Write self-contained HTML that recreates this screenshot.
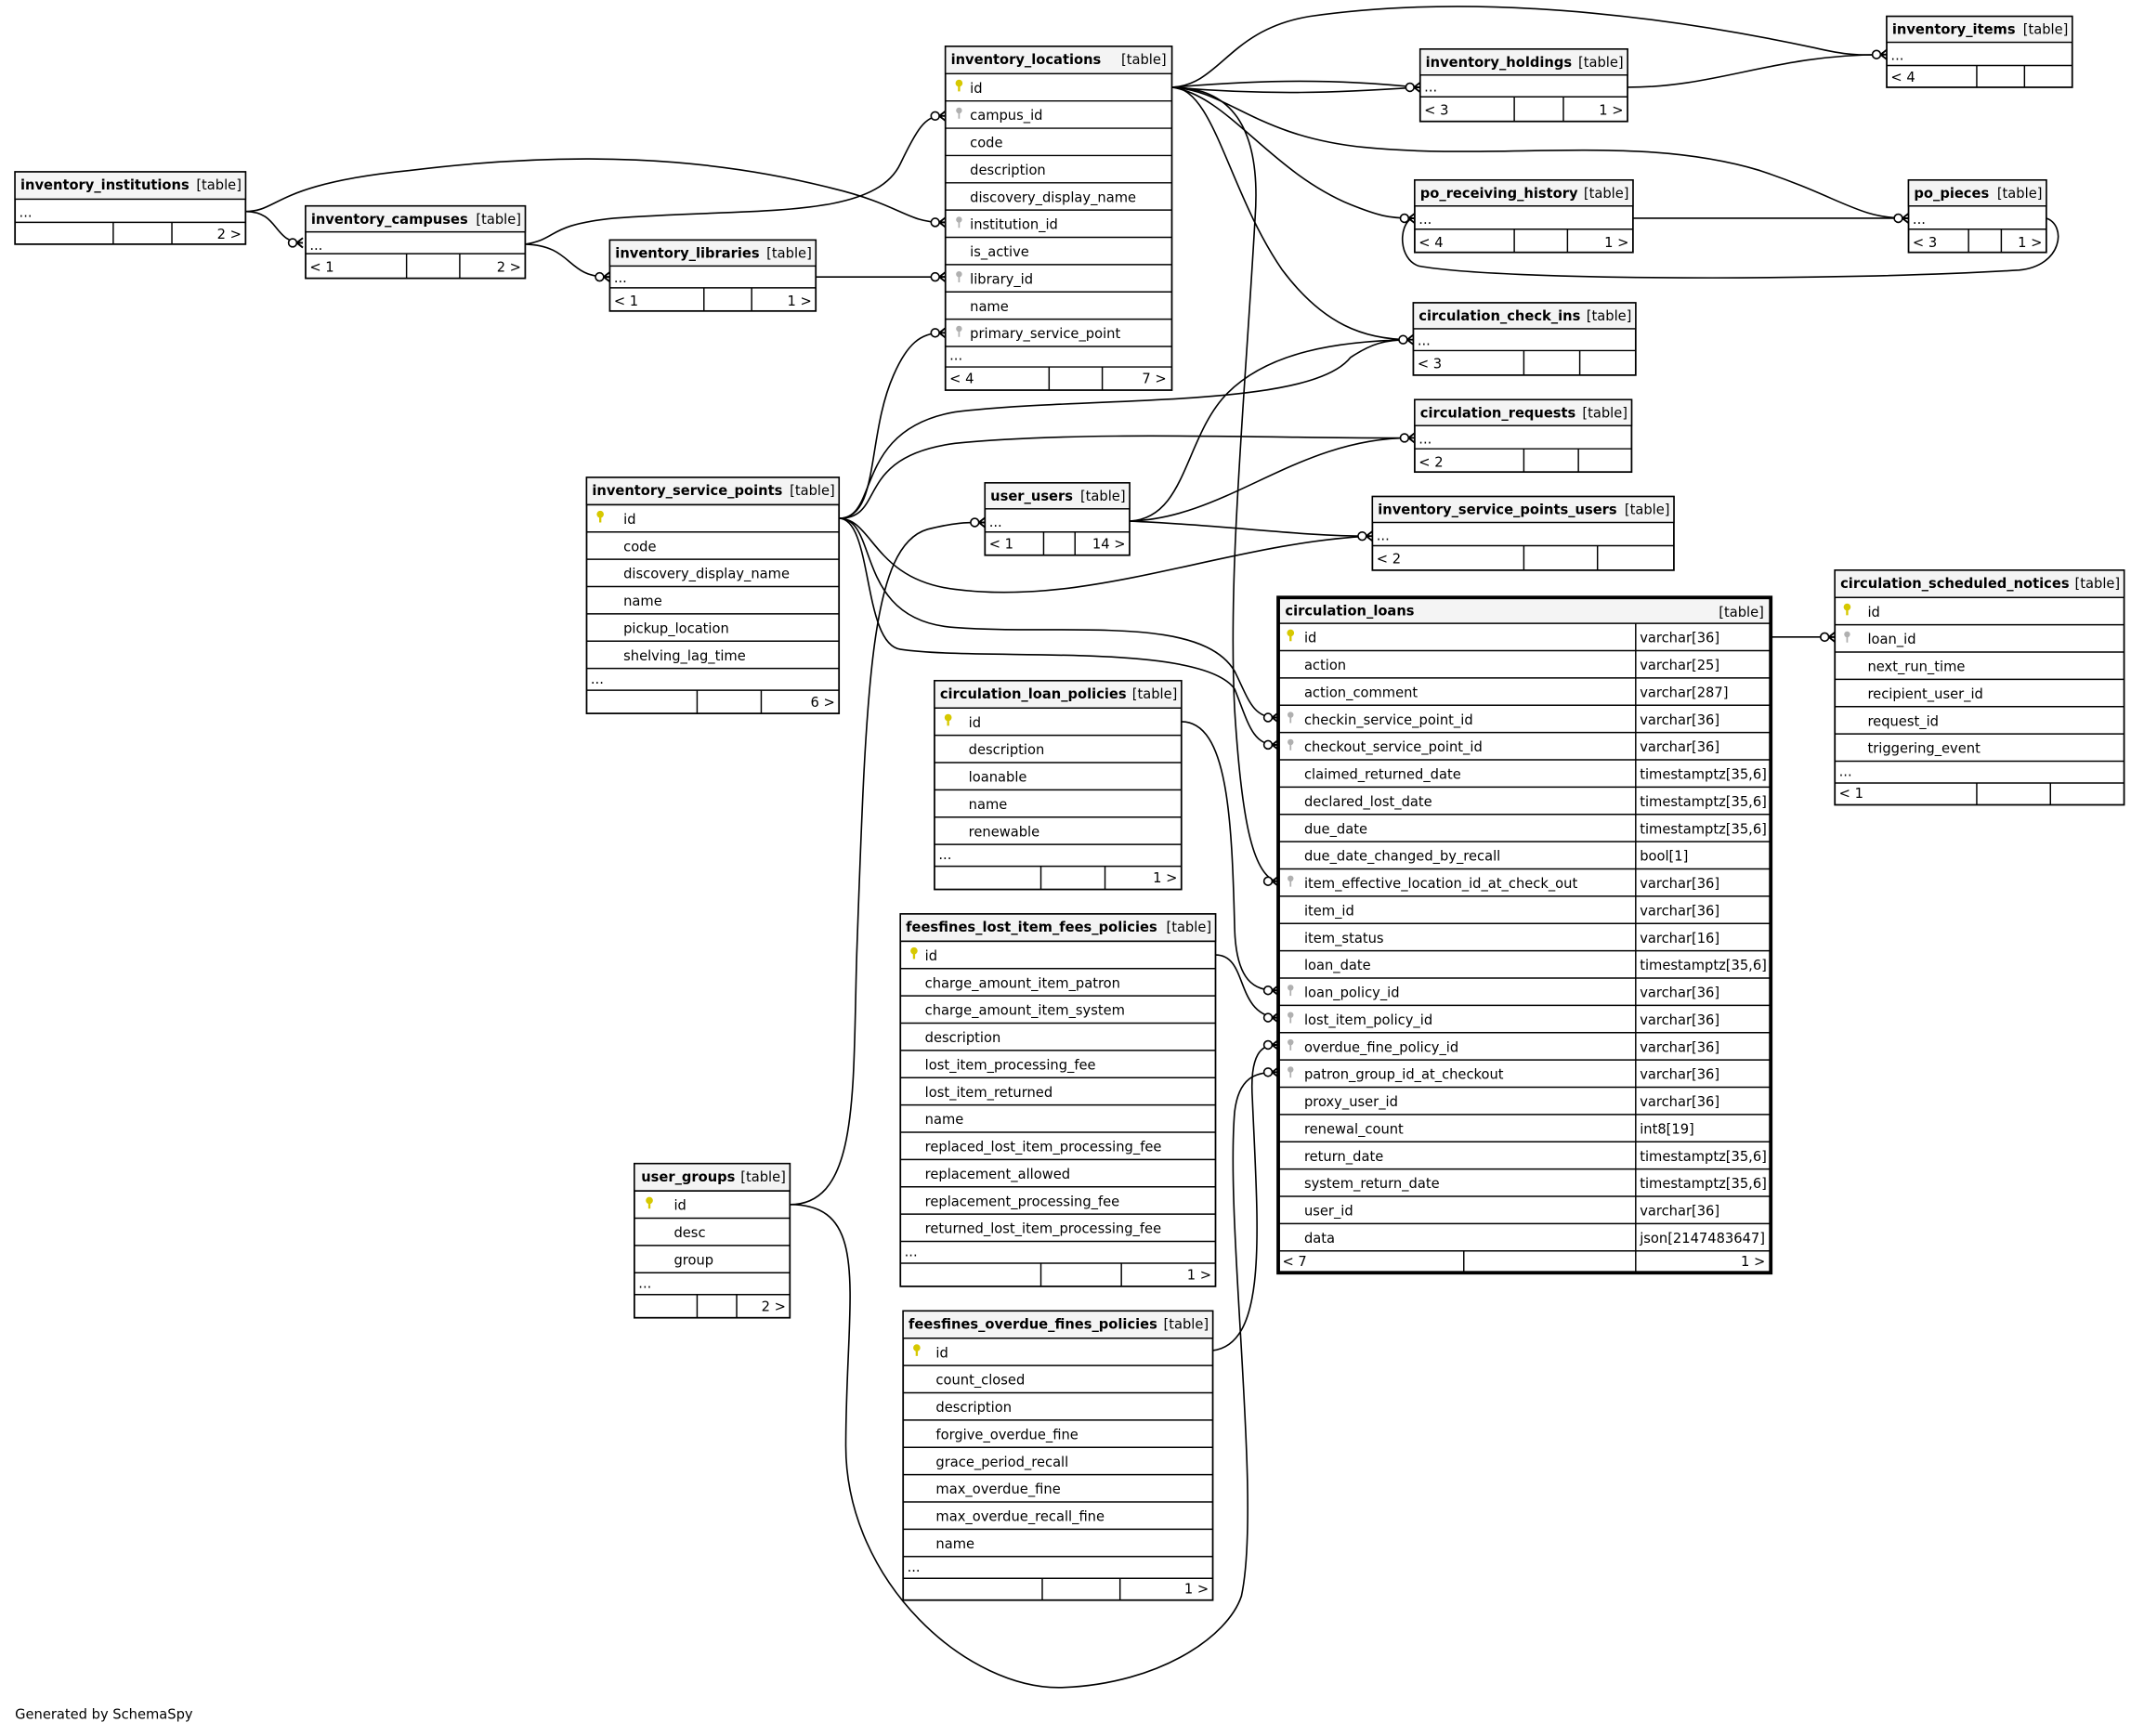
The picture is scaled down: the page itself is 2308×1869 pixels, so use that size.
<!DOCTYPE html>
<html><head><meta charset="utf-8"><style>
html,body{margin:0;padding:0;background:#fff}
svg{display:block}
text{font-family:"DejaVu Sans","Liberation Sans",sans-serif;font-size:10px;fill:#000}
.b{font-weight:bold}
.e{text-anchor:end}
.h{fill:#f4f4f4;stroke:#000;stroke-width:1}
.o{fill:none;stroke:#000;stroke-width:1.2}
.l{stroke:#000;stroke-width:1}
.c{fill:none;stroke:#000;stroke-width:1.1}
.pk{stroke:#d6c800;stroke-width:1.6;fill:#d6c800}
.fk{stroke:#b0b0b0;stroke-width:1.2;fill:#b0b0b0}
</style></head><body>
<svg width="2308" height="1869" viewBox="0 0 1571.6 1272.6" preserveAspectRatio="none" xmlns="http://www.w3.org/2000/svg">
<defs>
<g id="cf"><circle cx="-7.5" cy="0" r="3" fill="#fff" stroke="#000" stroke-width="1.1"/><path d="M-4.5,0 L0,-3.5 M-4.5,0 L0,0 M-4.5,0 L0,3.5" stroke="#000" stroke-width="1.3" fill="none"/></g>
<g id="pk"><circle cx="0" cy="-3" r="1.8" class="pk"/><line x1="0" y1="-3" x2="0" y2="3" class="pk"/></g>
<g id="fk"><circle cx="0" cy="-3" r="1.6" class="fk"/><line x1="0" y1="-3" x2="0" y2="3" class="fk"/></g>
</defs>

<!-- connectors -->
<g class="c">
<path d="M180,155 C205,155 200,135 300,125 C420,110 520,115 610,138 C660,150 665,163 690,163"/>
<path d="M180,155 C205,155 200,178 222,178"/>
<path d="M385,179 C410,175 400,165 450,160 C550,152 640,162 660,120 C672,95 678,85 690,85"/>
<path d="M385,179 C420,180 415,203 445,203"/>
<path d="M598,203 L690,203"/>
<path d="M615,380 C645,380 635,320 655,275 C665,252 675,244 690,244"/>
<path d="M615,380 C645,380 625,315 700,302 C800,290 960,300 990,262 C1005,252 1015,249 1034,249"/>
<path d="M615,380 C650,380 625,335 700,325 C800,315 950,322 1034,321"/>
<path d="M615,380 C640,380 640,425 700,432 C800,445 900,398 1004,393"/>
<path d="M615,380 C645,380 625,455 700,460 C780,466 880,450 905,492 C915,512 918,526 935,526"/>
<path d="M615,380 C640,380 632,472 660,476 C720,485 880,470 905,505 C915,530 918,546 935,546"/>
<path d="M859,64 C930,58 980,58 1039,64"/>
<path d="M859,64 C930,70 980,68 1039,64"/>
<path d="M859,64 C895,62 900,22 960,12 C1100,-8 1250,18 1330,35 C1360,42 1368,40 1381,40"/>
<path d="M859,64 C900,66 920,100 1000,108 C1100,118 1200,98 1290,125 C1350,145 1362,160 1397,160"/>
<path d="M859,64 C900,70 930,125 990,150 C1010,158 1018,160 1035,160"/>
<path d="M859,64 C890,64 900,140 940,198 C970,238 1000,249 1034,249"/>
<path d="M859,64 C900,64 925,90 920,160 C912,300 900,420 905,520 C910,600 918,640 935,646"/>
<path d="M579,883 C630,883 625,800 628,700 C635,500 638,400 680,388 C700,383 708,383 720,383"/>
<path d="M579,883 C640,883 620,950 620,1060 C620,1160 710,1240 780,1237 C850,1234 900,1200 910,1170 C925,1100 898,900 905,815 C908,790 920,786 935,786"/>
<path d="M828,382 C870,380 868,320 900,288 C930,258 980,250 1034,249"/>
<path d="M828,382 C900,380 950,321 1034,321"/>
<path d="M828,382 C900,385 950,393 1004,393"/>
<path d="M866,529 C900,529 903,600 905,680 C906,720 920,726 935,726"/>
<path d="M891,700 C915,700 905,742 935,746"/>
<path d="M889,990 C930,985 922,900 918,805 C916,772 925,766 935,766"/>
<path d="M1298,467 L1343,467"/>
<path d="M1193,64 C1260,64 1300,40 1381,40"/>
<path d="M1197,160 L1397,160"/>
<path d="M1500,160 C1515,165 1512,195 1480,198 C1350,206 1100,206 1040,195 C1025,190 1025,165 1035,160"/>
</g>
<g>
<use href="#cf" x="222" y="178"/><use href="#cf" x="693" y="85"/><use href="#cf" x="693" y="163"/>
<use href="#cf" x="447" y="203"/><use href="#cf" x="693" y="203"/><use href="#cf" x="693" y="244"/>
<use href="#cf" x="1041" y="64"/><use href="#cf" x="1383" y="40"/><use href="#cf" x="1399" y="160"/>
<use href="#cf" x="1037" y="160"/><use href="#cf" x="1036" y="249"/><use href="#cf" x="1037" y="321"/>
<use href="#cf" x="1006" y="393"/><use href="#cf" x="722" y="383"/><use href="#cf" x="1345" y="467"/>
<use href="#cf" x="937" y="526"/><use href="#cf" x="937" y="546"/><use href="#cf" x="937" y="646"/>
<use href="#cf" x="937" y="726"/><use href="#cf" x="937" y="746"/><use href="#cf" x="937" y="766"/><use href="#cf" x="937" y="786"/>
</g>

<!-- inventory_institutions -->
<g>
<rect x="11" y="126" width="169" height="53" fill="#fff" class="o"/>
<rect x="11" y="126" width="169" height="20" class="h"/>
<text x="15" y="139" class="b">inventory_institutions</text><text x="177" y="139" class="e">[table]</text>
<text x="14" y="159">...</text>
<line x1="11" y1="163" x2="180" y2="163" class="l"/><line x1="83" y1="163" x2="83" y2="179" class="l"/><line x1="126" y1="163" x2="126" y2="179" class="l"/>
<text x="177" y="175" class="e">2 &gt;</text>
</g>

<!-- inventory_campuses -->
<g>
<rect x="224" y="151" width="161" height="53" fill="#fff" class="o"/>
<rect x="224" y="151" width="161" height="19" class="h"/>
<text x="228" y="164" class="b">inventory_campuses</text><text x="382" y="164" class="e">[table]</text>
<text x="227" y="183">...</text>
<line x1="224" y1="186" x2="385" y2="186" class="l"/><line x1="298" y1="186" x2="298" y2="204" class="l"/><line x1="337" y1="186" x2="337" y2="204" class="l"/>
<text x="227" y="199">&lt; 1</text><text x="382" y="199" class="e">2 &gt;</text>
</g>

<!-- inventory_libraries -->
<g>
<rect x="447" y="176" width="151" height="52" fill="#fff" class="o"/>
<rect x="447" y="176" width="151" height="19" class="h"/>
<text x="451" y="189" class="b">inventory_libraries</text><text x="595" y="189" class="e">[table]</text>
<text x="450" y="207">...</text>
<line x1="447" y1="211" x2="598" y2="211" class="l"/><line x1="516" y1="211" x2="516" y2="228" class="l"/><line x1="551" y1="211" x2="551" y2="228" class="l"/>
<text x="450" y="224">&lt; 1</text><text x="595" y="224" class="e">1 &gt;</text>
</g>

<!-- inventory_locations -->
<g>
<rect x="693" y="34" width="166" height="252" fill="#fff" class="o"/>
<rect x="693" y="34" width="166" height="20" class="h"/>
<text x="697" y="47" class="b">inventory_locations</text><text x="855" y="47" class="e">[table]</text>
<g class="l"><line x1="693" y1="74" x2="859" y2="74"/><line x1="693" y1="94" x2="859" y2="94"/><line x1="693" y1="114" x2="859" y2="114"/><line x1="693" y1="134" x2="859" y2="134"/><line x1="693" y1="154" x2="859" y2="154"/><line x1="693" y1="174" x2="859" y2="174"/><line x1="693" y1="194" x2="859" y2="194"/><line x1="693" y1="214" x2="859" y2="214"/><line x1="693" y1="234" x2="859" y2="234"/><line x1="693" y1="254" x2="859" y2="254"/><line x1="693" y1="269" x2="859" y2="269"/><line x1="769" y1="269" x2="769" y2="286"/><line x1="808" y1="269" x2="808" y2="286"/></g>
<use href="#pk" x="703" y="64"/><use href="#fk" x="703" y="84"/><use href="#fk" x="703" y="164"/><use href="#fk" x="703" y="204"/><use href="#fk" x="703" y="244"/>
<text x="711" y="68">id</text><text x="711" y="88">campus_id</text><text x="711" y="108">code</text><text x="711" y="128">description</text><text x="711" y="148">discovery_display_name</text><text x="711" y="168">institution_id</text><text x="711" y="188">is_active</text><text x="711" y="208">library_id</text><text x="711" y="228">name</text><text x="711" y="248">primary_service_point</text>
<text x="696" y="264">...</text><text x="696" y="281">&lt; 4</text><text x="855" y="281" class="e">7 &gt;</text>
</g>

<!-- inventory_holdings -->
<g>
<rect x="1041" y="36" width="152" height="53" fill="#fff" class="o"/>
<rect x="1041" y="36" width="152" height="19" class="h"/>
<text x="1045" y="49" class="b">inventory_holdings</text><text x="1190" y="49" class="e">[table]</text>
<text x="1044" y="67">...</text>
<line x1="1041" y1="71" x2="1193" y2="71" class="l"/><line x1="1110" y1="71" x2="1110" y2="89" class="l"/><line x1="1146" y1="71" x2="1146" y2="89" class="l"/>
<text x="1044" y="84">&lt; 3</text><text x="1190" y="84" class="e">1 &gt;</text>
</g>

<!-- inventory_items -->
<g>
<rect x="1383" y="12" width="136" height="52" fill="#fff" class="o"/>
<rect x="1383" y="12" width="136" height="19" class="h"/>
<text x="1387" y="25" class="b">inventory_items</text><text x="1516" y="25" class="e">[table]</text>
<text x="1386" y="44">...</text>
<line x1="1383" y1="48" x2="1519" y2="48" class="l"/><line x1="1449" y1="48" x2="1449" y2="64" class="l"/><line x1="1484" y1="48" x2="1484" y2="64" class="l"/>
<text x="1386" y="60">&lt; 4</text>
</g>

<!-- po_receiving_history -->
<g>
<rect x="1037" y="132" width="160" height="53" fill="#fff" class="o"/>
<rect x="1037" y="132" width="160" height="19" class="h"/>
<text x="1041" y="145" class="b">po_receiving_history</text><text x="1194" y="145" class="e">[table]</text>
<text x="1040" y="164">...</text>
<line x1="1037" y1="168" x2="1197" y2="168" class="l"/><line x1="1110" y1="168" x2="1110" y2="185" class="l"/><line x1="1149" y1="168" x2="1149" y2="185" class="l"/>
<text x="1040" y="181">&lt; 4</text><text x="1194" y="181" class="e">1 &gt;</text>
</g>

<!-- po_pieces -->
<g>
<rect x="1399" y="132" width="101" height="53" fill="#fff" class="o"/>
<rect x="1399" y="132" width="101" height="19" class="h"/>
<text x="1403" y="145" class="b">po_pieces</text><text x="1497" y="145" class="e">[table]</text>
<text x="1402" y="164">...</text>
<line x1="1399" y1="168" x2="1500" y2="168" class="l"/><line x1="1443" y1="168" x2="1443" y2="185" class="l"/><line x1="1467" y1="168" x2="1467" y2="185" class="l"/>
<text x="1402" y="181">&lt; 3</text><text x="1497" y="181" class="e">1 &gt;</text>
</g>

<!-- circulation_check_ins -->
<g>
<rect x="1036" y="222" width="163" height="53" fill="#fff" class="o"/>
<rect x="1036" y="222" width="163" height="19" class="h"/>
<text x="1040" y="235" class="b">circulation_check_ins</text><text x="1196" y="235" class="e">[table]</text>
<text x="1039" y="253">...</text>
<line x1="1036" y1="257" x2="1199" y2="257" class="l"/><line x1="1117" y1="257" x2="1117" y2="275" class="l"/><line x1="1158" y1="257" x2="1158" y2="275" class="l"/>
<text x="1039" y="270">&lt; 3</text>
</g>

<!-- circulation_requests -->
<g>
<rect x="1037" y="293" width="159" height="53" fill="#fff" class="o"/>
<rect x="1037" y="293" width="159" height="19" class="h"/>
<text x="1041" y="306" class="b">circulation_requests</text><text x="1193" y="306" class="e">[table]</text>
<text x="1040" y="325">...</text>
<line x1="1037" y1="329" x2="1196" y2="329" class="l"/><line x1="1117" y1="329" x2="1117" y2="346" class="l"/><line x1="1157" y1="329" x2="1157" y2="346" class="l"/>
<text x="1040" y="342">&lt; 2</text>
</g>

<!-- inventory_service_points_users -->
<g>
<rect x="1006" y="364" width="221" height="54" fill="#fff" class="o"/>
<rect x="1006" y="364" width="221" height="19" class="h"/>
<text x="1010" y="377" class="b">inventory_service_points_users</text><text x="1224" y="377" class="e">[table]</text>
<text x="1009" y="396">...</text>
<line x1="1006" y1="400" x2="1227" y2="400" class="l"/><line x1="1117" y1="400" x2="1117" y2="418" class="l"/><line x1="1171" y1="400" x2="1171" y2="418" class="l"/>
<text x="1009" y="413">&lt; 2</text>
</g>

<!-- user_users -->
<g>
<rect x="722" y="354" width="106" height="53" fill="#fff" class="o"/>
<rect x="722" y="354" width="106" height="19" class="h"/>
<text x="726" y="367" class="b">user_users</text><text x="825" y="367" class="e">[table]</text>
<text x="725" y="386">...</text>
<line x1="722" y1="390" x2="828" y2="390" class="l"/><line x1="765" y1="390" x2="765" y2="407" class="l"/><line x1="788" y1="390" x2="788" y2="407" class="l"/>
<text x="725" y="402">&lt; 1</text><text x="825" y="402" class="e">14 &gt;</text>
</g>

<!-- inventory_service_points -->
<g>
<rect x="430" y="350" width="185" height="173" fill="#fff" class="o"/>
<rect x="430" y="350" width="185" height="20" class="h"/>
<text x="434" y="363" class="b">inventory_service_points</text><text x="612" y="363" class="e">[table]</text>
<g class="l"><line x1="430" y1="370" x2="615" y2="370"/><line x1="430" y1="390" x2="615" y2="390"/><line x1="430" y1="410" x2="615" y2="410"/><line x1="430" y1="430" x2="615" y2="430"/><line x1="430" y1="450" x2="615" y2="450"/><line x1="430" y1="470" x2="615" y2="470"/><line x1="430" y1="490" x2="615" y2="490"/><line x1="430" y1="506" x2="615" y2="506"/><line x1="511" y1="506" x2="511" y2="523"/><line x1="558" y1="506" x2="558" y2="523"/></g>
<use href="#pk" x="440" y="380"/>
<text x="457" y="384">id</text><text x="457" y="404">code</text><text x="457" y="424">discovery_display_name</text><text x="457" y="444">name</text><text x="457" y="464">pickup_location</text><text x="457" y="484">shelving_lag_time</text>
<text x="433" y="501">...</text><text x="612" y="518" class="e">6 &gt;</text>
</g>

<!-- circulation_loan_policies -->
<g>
<rect x="685" y="499" width="181" height="153" fill="#fff" class="o"/>
<rect x="685" y="499" width="181" height="20" class="h"/>
<text x="689" y="512" class="b">circulation_loan_policies</text><text x="863" y="512" class="e">[table]</text>
<g class="l"><line x1="685" y1="519" x2="866" y2="519"/><line x1="685" y1="539" x2="866" y2="539"/><line x1="685" y1="559" x2="866" y2="559"/><line x1="685" y1="579" x2="866" y2="579"/><line x1="685" y1="599" x2="866" y2="599"/><line x1="685" y1="619" x2="866" y2="619"/><line x1="685" y1="635" x2="866" y2="635"/><line x1="763" y1="635" x2="763" y2="652"/><line x1="810" y1="635" x2="810" y2="652"/></g>
<use href="#pk" x="695" y="529"/>
<text x="710" y="533">id</text><text x="710" y="553">description</text><text x="710" y="573">loanable</text><text x="710" y="593">name</text><text x="710" y="613">renewable</text>
<text x="688" y="630">...</text><text x="863" y="647" class="e">1 &gt;</text>
</g>

<!-- feesfines_lost_item_fees_policies -->
<g>
<rect x="660" y="670" width="231" height="273" fill="#fff" class="o"/>
<rect x="660" y="670" width="231" height="20" class="h"/>
<text x="664" y="683" class="b">feesfines_lost_item_fees_policies</text><text x="888" y="683" class="e">[table]</text>
<g class="l"><line x1="660" y1="690" x2="891" y2="690"/><line x1="660" y1="710" x2="891" y2="710"/><line x1="660" y1="730" x2="891" y2="730"/><line x1="660" y1="750" x2="891" y2="750"/><line x1="660" y1="770" x2="891" y2="770"/><line x1="660" y1="790" x2="891" y2="790"/><line x1="660" y1="810" x2="891" y2="810"/><line x1="660" y1="830" x2="891" y2="830"/><line x1="660" y1="850" x2="891" y2="850"/><line x1="660" y1="870" x2="891" y2="870"/><line x1="660" y1="890" x2="891" y2="890"/><line x1="660" y1="910" x2="891" y2="910"/><line x1="660" y1="926" x2="891" y2="926"/><line x1="763" y1="926" x2="763" y2="943"/><line x1="822" y1="926" x2="822" y2="943"/></g>
<use href="#pk" x="670" y="700"/>
<text x="678" y="704">id</text><text x="678" y="724">charge_amount_item_patron</text><text x="678" y="744">charge_amount_item_system</text><text x="678" y="764">description</text><text x="678" y="784">lost_item_processing_fee</text><text x="678" y="804">lost_item_returned</text><text x="678" y="824">name</text><text x="678" y="844">replaced_lost_item_processing_fee</text><text x="678" y="864">replacement_allowed</text><text x="678" y="884">replacement_processing_fee</text><text x="678" y="904">returned_lost_item_processing_fee</text>
<text x="663" y="921">...</text><text x="888" y="938" class="e">1 &gt;</text>
</g>

<!-- user_groups -->
<g>
<rect x="465" y="853" width="114" height="113" fill="#fff" class="o"/>
<rect x="465" y="853" width="114" height="20" class="h"/>
<text x="470" y="866" class="b">user_groups</text><text x="576" y="866" class="e">[table]</text>
<g class="l"><line x1="465" y1="873" x2="579" y2="873"/><line x1="465" y1="893" x2="579" y2="893"/><line x1="465" y1="913" x2="579" y2="913"/><line x1="465" y1="933" x2="579" y2="933"/><line x1="465" y1="949" x2="579" y2="949"/><line x1="511" y1="949" x2="511" y2="966"/><line x1="540" y1="949" x2="540" y2="966"/></g>
<use href="#pk" x="476" y="883"/>
<text x="494" y="887">id</text><text x="494" y="907">desc</text><text x="494" y="927">group</text>
<text x="468" y="944">...</text><text x="576" y="961" class="e">2 &gt;</text>
</g>

<!-- feesfines_overdue_fines_policies -->
<g>
<rect x="662" y="961" width="227" height="212" fill="#fff" class="o"/>
<rect x="662" y="961" width="227" height="20" class="h"/>
<text x="666" y="974" class="b">feesfines_overdue_fines_policies</text><text x="886" y="974" class="e">[table]</text>
<g class="l"><line x1="662" y1="981" x2="889" y2="981"/><line x1="662" y1="1001" x2="889" y2="1001"/><line x1="662" y1="1021" x2="889" y2="1021"/><line x1="662" y1="1041" x2="889" y2="1041"/><line x1="662" y1="1061" x2="889" y2="1061"/><line x1="662" y1="1081" x2="889" y2="1081"/><line x1="662" y1="1101" x2="889" y2="1101"/><line x1="662" y1="1121" x2="889" y2="1121"/><line x1="662" y1="1141" x2="889" y2="1141"/><line x1="662" y1="1157" x2="889" y2="1157"/><line x1="764" y1="1157" x2="764" y2="1173"/><line x1="821" y1="1157" x2="821" y2="1173"/></g>
<use href="#pk" x="672" y="991"/>
<text x="686" y="995">id</text><text x="686" y="1015">count_closed</text><text x="686" y="1035">description</text><text x="686" y="1055">forgive_overdue_fine</text><text x="686" y="1075">grace_period_recall</text><text x="686" y="1095">max_overdue_fine</text><text x="686" y="1115">max_overdue_recall_fine</text><text x="686" y="1135">name</text>
<text x="665" y="1152">...</text><text x="886" y="1168" class="e">1 &gt;</text>
</g>

<!-- circulation_loans -->
<g>
<rect x="937" y="438" width="361" height="495" fill="#fff" stroke="#000" stroke-width="2.6"/>
<rect x="938.5" y="439.5" width="358" height="18" fill="#f4f4f4"/>
<text x="942" y="451" class="b">circulation_loans</text><text x="1293" y="452" class="e">[table]</text>
<g class="l"><line x1="937" y1="457" x2="1298" y2="457"/><line x1="937" y1="477" x2="1298" y2="477"/><line x1="937" y1="497" x2="1298" y2="497"/><line x1="937" y1="517" x2="1298" y2="517"/><line x1="937" y1="537" x2="1298" y2="537"/><line x1="937" y1="557" x2="1298" y2="557"/><line x1="937" y1="577" x2="1298" y2="577"/><line x1="937" y1="597" x2="1298" y2="597"/><line x1="937" y1="617" x2="1298" y2="617"/><line x1="937" y1="637" x2="1298" y2="637"/><line x1="937" y1="657" x2="1298" y2="657"/><line x1="937" y1="677" x2="1298" y2="677"/><line x1="937" y1="697" x2="1298" y2="697"/><line x1="937" y1="717" x2="1298" y2="717"/><line x1="937" y1="737" x2="1298" y2="737"/><line x1="937" y1="757" x2="1298" y2="757"/><line x1="937" y1="777" x2="1298" y2="777"/><line x1="937" y1="797" x2="1298" y2="797"/><line x1="937" y1="817" x2="1298" y2="817"/><line x1="937" y1="837" x2="1298" y2="837"/><line x1="937" y1="857" x2="1298" y2="857"/><line x1="937" y1="877" x2="1298" y2="877"/><line x1="937" y1="897" x2="1298" y2="897"/><line x1="937" y1="917" x2="1298" y2="917"/><line x1="1199" y1="457" x2="1199" y2="933"/><line x1="1073" y1="917" x2="1073" y2="933"/></g>
<use href="#pk" x="946" y="467"/><use href="#fk" x="946" y="527"/><use href="#fk" x="946" y="547"/><use href="#fk" x="946" y="647"/><use href="#fk" x="946" y="727"/><use href="#fk" x="946" y="747"/><use href="#fk" x="946" y="767"/><use href="#fk" x="946" y="787"/>
<text x="956" y="471">id</text><text x="956" y="491">action</text><text x="956" y="511">action_comment</text><text x="956" y="531">checkin_service_point_id</text><text x="956" y="551">checkout_service_point_id</text><text x="956" y="571">claimed_returned_date</text><text x="956" y="591">declared_lost_date</text><text x="956" y="611">due_date</text><text x="956" y="631">due_date_changed_by_recall</text><text x="956" y="651">item_effective_location_id_at_check_out</text><text x="956" y="671">item_id</text><text x="956" y="691">item_status</text><text x="956" y="711">loan_date</text><text x="956" y="731">loan_policy_id</text><text x="956" y="751">lost_item_policy_id</text><text x="956" y="771">overdue_fine_policy_id</text><text x="956" y="791">patron_group_id_at_checkout</text><text x="956" y="811">proxy_user_id</text><text x="956" y="831">renewal_count</text><text x="956" y="851">return_date</text><text x="956" y="871">system_return_date</text><text x="956" y="891">user_id</text><text x="956" y="911">data</text>
<text x="1202" y="471">varchar[36]</text><text x="1202" y="491">varchar[25]</text><text x="1202" y="511">varchar[287]</text><text x="1202" y="531">varchar[36]</text><text x="1202" y="551">varchar[36]</text><text x="1202" y="571">timestamptz[35,6]</text><text x="1202" y="591">timestamptz[35,6]</text><text x="1202" y="611">timestamptz[35,6]</text><text x="1202" y="631">bool[1]</text><text x="1202" y="651">varchar[36]</text><text x="1202" y="671">varchar[36]</text><text x="1202" y="691">varchar[16]</text><text x="1202" y="711">timestamptz[35,6]</text><text x="1202" y="731">varchar[36]</text><text x="1202" y="751">varchar[36]</text><text x="1202" y="771">varchar[36]</text><text x="1202" y="791">varchar[36]</text><text x="1202" y="811">varchar[36]</text><text x="1202" y="831">int8[19]</text><text x="1202" y="851">timestamptz[35,6]</text><text x="1202" y="871">timestamptz[35,6]</text><text x="1202" y="891">varchar[36]</text><text x="1202" y="911">json[2147483647]</text>
<text x="940" y="928">&lt; 7</text><text x="1294" y="928" class="e">1 &gt;</text>
</g>

<!-- circulation_scheduled_notices -->
<g>
<rect x="1345" y="418" width="212" height="172" fill="#fff" class="o"/>
<rect x="1345" y="418" width="212" height="20" class="h"/>
<text x="1349" y="431" class="b">circulation_scheduled_notices</text><text x="1554" y="431" class="e">[table]</text>
<g class="l"><line x1="1345" y1="438" x2="1557" y2="438"/><line x1="1345" y1="458" x2="1557" y2="458"/><line x1="1345" y1="478" x2="1557" y2="478"/><line x1="1345" y1="498" x2="1557" y2="498"/><line x1="1345" y1="518" x2="1557" y2="518"/><line x1="1345" y1="538" x2="1557" y2="538"/><line x1="1345" y1="558" x2="1557" y2="558"/><line x1="1345" y1="574" x2="1557" y2="574"/><line x1="1449" y1="574" x2="1449" y2="590"/><line x1="1503" y1="574" x2="1503" y2="590"/></g>
<use href="#pk" x="1354" y="448"/><use href="#fk" x="1354" y="468"/>
<text x="1369" y="452">id</text><text x="1369" y="472">loan_id</text><text x="1369" y="492">next_run_time</text><text x="1369" y="512">recipient_user_id</text><text x="1369" y="532">request_id</text><text x="1369" y="552">triggering_event</text>
<text x="1348" y="569">...</text><text x="1348" y="585">&lt; 1</text>
</g>

<text x="11" y="1260">Generated by SchemaSpy</text>
</svg>
</body></html>
